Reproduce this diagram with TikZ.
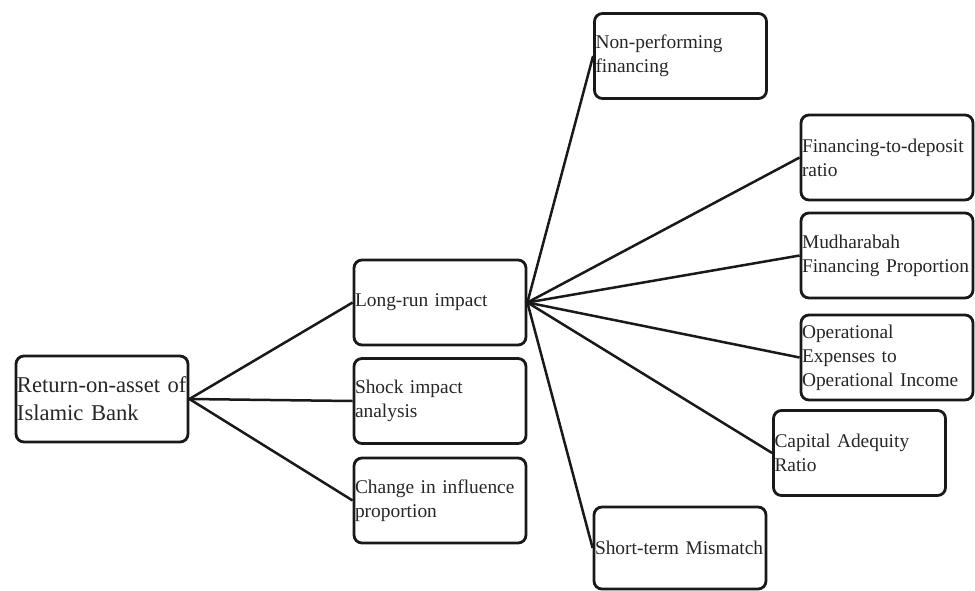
\documentclass[tikz,border=0pt]{standalone}
\usepackage{fontspec}
\setmainfont{Liberation Serif}

\tikzset{box/.style={draw=black!90, line width=1.4pt, rectangle, rounded corners=4pt,
  minimum height=42.5pt, inner xsep=0.5pt, text width=85pt, align=left,
  text=black!85, font=\fontsize{9.7}{12}\selectfont}}
\tikzset{link/.style={draw=black!90, line width=1.25pt}}

\begin{document}
\begin{tikzpicture}[x=0.5pt,y=-0.5pt]

\useasboundingbox (0,0) rectangle (975,590);

\node[box, minimum height=43pt, font=\fontsize{11.3}{14}\selectfont] (R) at (102,399)
{Return-on-asset of\\Islamic Bank};%

\node[box] (L) at (440,302.5)
{Long-run impact};%

\node[box] (K) at (440,401)
{Shock impact\\analysis};%

\node[box] (C) at (440,500.5)
{Change in influence\\proportion};%


\node[box] (N) at (680.5,56)
{Non-performing\\financing};%

\node[box] (F) at (887,157.5)
{Financing-to-deposit\\ratio};%

\node[box] (M) at (887,255.5)
{Mudharabah\\\mbox{Financing Proportion}};%

\node[box] (O) at (887,357.5)
{Operational\\Expenses to\\Operational Income};%

\node[box] (A) at (859.5,453)
{Capital Adequity\\Ratio};%

\node[box, minimum height=41pt] (S) at (680,548)
{\mbox{Short-term Mismatch}};%

\draw[link] (R.east) -- (L.west);
\draw[link] (R.east) -- (K.west);
\draw[link] (R.east) -- (C.west);
\draw[link] (L.east) -- (N.west);
\draw[link] (L.east) -- (F.west);
\draw[link] (L.east) -- (M.west);
\draw[link] (L.east) -- (O.west);
\draw[link] (L.east) -- (A.west);
\draw[link] (L.east) -- (S.west);

\end{tikzpicture}
\end{document}
